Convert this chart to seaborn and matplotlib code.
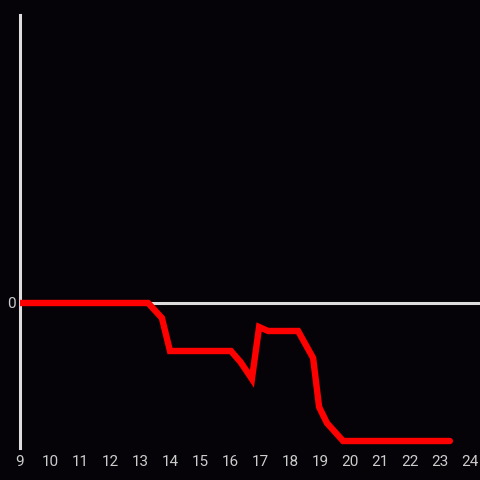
import matplotlib

matplotlib.use("Agg")

import matplotlib.pyplot as plt
import pandas as pd
import seaborn as sns

# ==========================================================
# Data
# ==========================================================

hours = [9.0, 13.27, 13.73, 14.0, 16.03, 16.35, 16.73, 16.97,
         17.27, 18.27, 18.77, 18.97, 19.23, 19.77, 23.33]
values = [0, 0, -15, -48, -48, -59, -76, -24,
          -28, -28, -55, -104, -120, -138, -138]
x_ticks = list(range(9, 25))

BG = "#050307"
AXIS = "#dddddd"
LABEL = "#cccccc"


def main() -> None:
    sns.set_style("dark")
    plt.rcParams["font.family"] = ["Roboto", "DejaVu Sans"]

    df = pd.DataFrame({"hour": hours, "value": values})

    fig = plt.figure(figsize=(4.8, 4.8), dpi=100, facecolor=BG)
    ax = fig.add_axes([20 / 480, 32 / 480, 460 / 480, 433 / 480])
    ax.set_facecolor(BG)

    ax.axhline(0, color=AXIS, lw=2.2, zorder=1)

    sns.lineplot(
        data=df,
        x="hour",
        y="value",
        color="#ff0000",
        lw=4.6,
        ax=ax,
        zorder=3,
    )
    ax.lines[-1].set_solid_joinstyle("miter")

    ax.set_xlim(9, 24.333)
    ax.set_ylim(-145, 288)

    ax.set_xticks(x_ticks)
    ax.set_yticks([0])
    ax.tick_params(axis="x", length=0, pad=5, colors=LABEL, labelsize=11)
    ax.tick_params(axis="y", length=0, pad=3, colors=LABEL, labelsize=11)
    ax.grid(False)

    for side in ["top", "right", "bottom"]:
        ax.spines[side].set_visible(False)
    ax.spines["left"].set_color(AXIS)
    ax.spines["left"].set_linewidth(2.2)
    ax.spines["left"].set_visible(True)

    ax.set_xlabel("")
    ax.set_ylabel("")

    fig.savefig("out.png", dpi=100, facecolor=BG)
    plt.close(fig)


if __name__ == "__main__":
    main()
